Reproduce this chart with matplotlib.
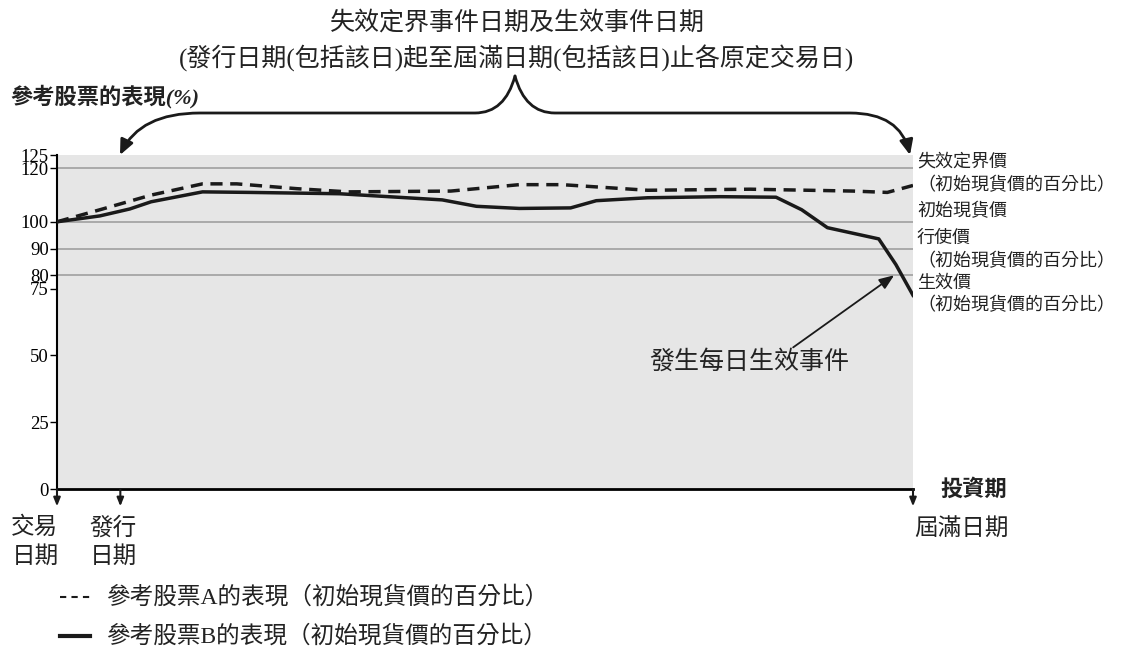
import matplotlib.pyplot as plt
import matplotlib.transforms as mtransforms
from matplotlib.path import Path
from matplotlib.patches import FancyArrowPatch

CJK = ['Liberation Serif', 'Noto Sans CJK TC']
plt.rcParams['font.family'] = CJK

# trading days from trade date (0) to maturity (100)
days_a = [0, 5, 11, 17, 21, 28, 34, 46, 54, 59, 69, 81, 93, 97, 100]
stock_a = [100, 104.5, 110, 114.2, 114.2, 112.4, 111.2, 111.5, 113.9, 113.9,
           111.8, 112.2, 111.5, 111.0, 113.6]
days_b = [0, 5, 8.5, 11, 17, 22.5, 31, 33, 45, 49, 54, 60, 63, 69, 77.5, 84,
          87, 90, 96, 98, 100]
stock_b = [100, 102.2, 104.8, 107.5, 111.2, 111, 110.6, 110.5, 108.2, 105.8,
           105, 105.2, 107.9, 109, 109.4, 109.2, 104.5, 97.8, 93.6, 84, 72.5]

yticks = [0, 25, 50, 75, 80, 90, 100, 120, 125]
gridlines = [80, 90, 100, 120]
issue_day = 7.4
knock_in = (97.8, 80)

fig = plt.figure(figsize=(11.29, 6.53), dpi=100)
ax = fig.add_axes([57 / 1129, 1 - 489 / 653, 856 / 1129, 334 / 653])
ax.set_facecolor('#e6e6e6')
ax.set_xlim(0, 100)
ax.set_ylim(0, 125)
for g in gridlines:
    ax.axhline(g, color='#a0a0a0', lw=1.2, zorder=1)
ax.plot(days_a, stock_a, color='#1a1a1a', lw=2.5, ls=(0, (3.5, 2.2)), zorder=3)
ax.plot(days_b, stock_b, color='#1a1a1a', lw=2.5, zorder=3)

ax.set_xticks([])
ax.set_yticks(yticks)
ax.set_yticklabels([str(t) for t in yticks], fontsize=13.5, family='Liberation Serif')
ax.tick_params(axis='y', length=5, width=1, pad=1)
for s in ['top', 'right']:
    ax.spines[s].set_visible(False)
ax.spines['left'].set_linewidth(1.5)
ax.spines['bottom'].set_linewidth(2)

# pixel-coordinate transform for decorations (origin top-left)
px = mtransforms.Affine2D().scale(1 / 1129, -1 / 653).translate(0, 1) + fig.transFigure

def ftext(x, y, s, **kw):
    kw.setdefault('fontsize', 13)
    kw.setdefault('color', '#222222')
    fig.text(x, y, s, transform=px, **kw)

ftext(517, 23, '失效定界事件日期及生效事件日期', ha='center', va='center', fontsize=18)
ftext(517, 58, '(發行日期(包括該日)起至屆滿日期(包括該日)止各原定交易日)',
      ha='center', va='center', fontsize=18)
ftext(10, 97, '參考股票的表現(%)', ha='left', va='center', fontsize=16,
      fontweight='bold', style='italic')
ftext(940, 490, '投資期', ha='left', va='center', fontsize=16,
      fontweight='bold', style='italic')

# curly brace with arrows
left = Path([(515, 76), (505, 113), (475, 113), (455, 113), (200, 113),
             (140, 113), (120, 155)],
            [Path.MOVETO, Path.CURVE3, Path.CURVE3, Path.LINETO, Path.LINETO,
             Path.CURVE3, Path.CURVE3])
right = Path([(515, 76), (525, 113), (555, 113), (575, 113), (850, 113),
              (900, 113), (910, 155)],
             [Path.MOVETO, Path.CURVE3, Path.CURVE3, Path.LINETO, Path.LINETO,
              Path.CURVE3, Path.CURVE3])
for p in (left, right):
    fig.add_artist(FancyArrowPatch(path=p.transformed(px), transform=None,
                                   arrowstyle='-|>,head_length=9,head_width=4',
                                   color='#1a1a1a', lw=2))

# right side labels
side = [(162, '失效定界價'), (186, '（初始現貨價的百分比）'), (212, '初始現貨價'),
        (238, '行使價'), (261, '（初始現貨價的百分比）'), (283, '生效價'),
        (306, '（初始現貨價的百分比）')]
for y, s in side:
    ftext(917, y, s, ha='left', va='center', fontsize=13)

# knock-in annotation
ax.text(92.5, 47.5, '發生每日生效事件', ha='right', va='center', fontsize=18,
        color='#222222')
ax.annotate('', xy=knock_in, xytext=(86, 53),
            arrowprops=dict(arrowstyle='-|>,head_length=0.9,head_width=0.35',
                            color='#1a1a1a', lw=1.3, shrinkA=0, shrinkB=0))

# date arrows below x axis
for d in (0, issue_day, 100):
    ax.annotate('', xy=(d, -6.5), xytext=(d, 0), annotation_clip=False,
                arrowprops=dict(arrowstyle='-|>,head_length=0.5,head_width=0.2',
                                color='#1a1a1a', lw=1.5, shrinkA=0, shrinkB=0))
ftext(35, 528, '交易', ha='center', va='center', fontsize=17)
ftext(35, 557, '日期', ha='center', va='center', fontsize=17)
ftext(113, 528, '發行', ha='center', va='center', fontsize=17)
ftext(113, 557, '日期', ha='center', va='center', fontsize=17)
ftext(961, 530, '屆滿日期', ha='center', va='center', fontsize=17)

# legend
fig.add_artist(plt.Line2D([60, 93], [597, 597], transform=px, color='#1a1a1a',
                          lw=1.5, ls=(0, (3, 2.5))))
fig.add_artist(plt.Line2D([60, 90], [636, 636], transform=px, color='#1a1a1a', lw=3))
ftext(106, 597, '參考股票A的表現（初始現貨價的百分比）', ha='left', va='center', fontsize=17)
ftext(106, 636, '參考股票B的表現（初始現貨價的百分比）', ha='left', va='center', fontsize=17)

fig.savefig('out.png', dpi=100)
